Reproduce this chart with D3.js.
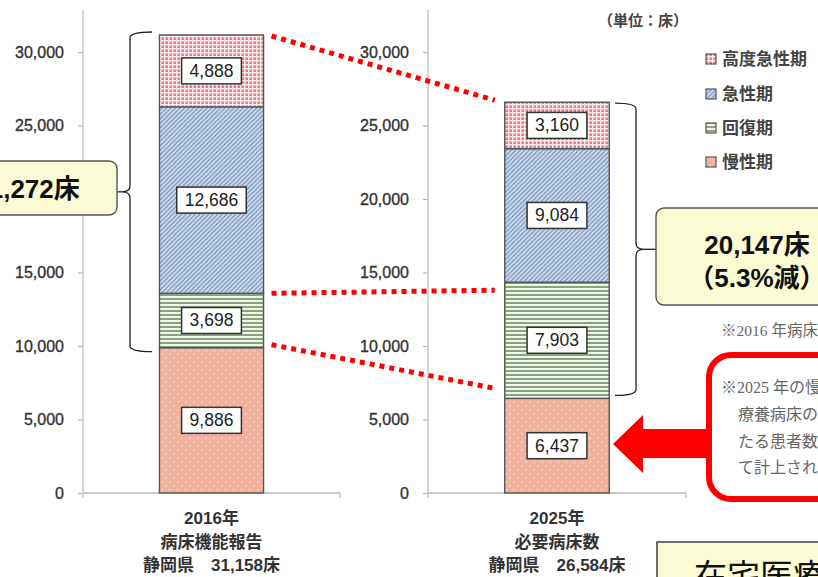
<!DOCTYPE html>
<html>
<head>
<meta charset="utf-8">
<script src="https://cdn.jsdelivr.net/npm/d3@7"></script>
<style>
  body { margin: 0; background: #fff; }
  svg { display: block; }
</style>
</head>
<body>
<svg id="chart" width="818" height="577"></svg>
<script>
// ---- data ----------------------------------------------------------
const categories = ["2016年", "2025年"];
const categoryLabels = [
  ["2016年", "病床機能報告", "静岡県　31,158床"],
  ["2025年", "必要病床数", "静岡県　26,584床"]
];
// stacking order, bottom to top
const functionsStack = ["慢性期", "回復期", "急性期", "高度急性期"];
const beds2016 = [9886, 3698, 12686, 4888];
const beds2025 = [6437, 7903, 9084, 3160];
const legendOrder = ["高度急性期", "急性期", "回復期", "慢性期"];
const yTicks = [0, 5000, 10000, 15000, 20000, 25000, 30000];
const totalOutsideChronic2016 = "21,272床";
const totalOutsideChronic2025 = ["20,147床", "（5.3%減）"];
const unitLabel = "（単位：床）";

// ---- setup ---------------------------------------------------------
const svg = d3.select("#chart");
const W = 818, H = 577;
const NUM_FONT = "'Liberation Sans', Arial, 'Noto Sans CJK JP', sans-serif";
const JP_FONT = "'Liberation Sans', 'Noto Sans CJK JP', sans-serif";
const SERIF_FONT = "'Liberation Serif', 'Noto Sans CJK JP', serif";

svg.append("rect").attr("width", W).attr("height", H).attr("fill", "#ffffff");

const defs = svg.append("defs");

// hatch / fill patterns for each bed function
function pat(id, w, h) {
  return defs.append("pattern").attr("id", id)
    .attr("patternUnits", "userSpaceOnUse").attr("width", w).attr("height", h);
}
// 高度急性期: red check
{
  const p = pat("p-high", 4, 4);
  p.append("rect").attr("width", 4).attr("height", 4).attr("fill", "#e57c88");
  p.append("rect").attr("width", 4).attr("height", 1.4).attr("fill", "#fcecee");
  p.append("rect").attr("width", 1.4).attr("height", 4).attr("fill", "#fcecee");
}
// 急性期: blue diagonal hatch
{
  const p = pat("p-acute", 4.5, 4.5);
  p.append("rect").attr("width", 4.5).attr("height", 4.5).attr("fill", "#cfdcee");
  p.append("path").attr("d", "M-1,1 L1,-1 M0,4.5 L4.5,0 M3.5,5.5 L5.5,3.5")
    .attr("stroke", "#7893bd").attr("stroke-width", 1.2);
}
// 回復期: green horizontal lines
{
  const p = pat("p-recov", 4, 4);
  p.append("rect").attr("width", 4).attr("height", 4).attr("fill", "#f1f5ec");
  p.append("rect").attr("y", 2.2).attr("width", 4).attr("height", 1.6).attr("fill", "#6f9162");
}
// 慢性期: salmon with light dots
{
  const p = pat("p-chron", 8, 8);
  p.append("rect").attr("width", 8).attr("height", 8).attr("fill", "#f1b29d");
  p.append("circle").attr("cx", 2).attr("cy", 2).attr("r", 0.8).attr("fill", "#fde8e0");
  p.append("circle").attr("cx", 6).attr("cy", 6).attr("r", 0.8).attr("fill", "#fde8e0");
}
const fillOf = {
  "高度急性期": "url(#p-high)",
  "急性期": "url(#p-acute)",
  "回復期": "url(#p-recov)",
  "慢性期": "url(#p-chron)"
};

// ---- scales --------------------------------------------------------
const y = d3.scaleLinear().domain([0, 30000]).range([493, 52]);

const rows = categories.map((c, i) => {
  const vals = i === 0 ? beds2016 : beds2025;
  const r = { category: c };
  functionsStack.forEach((f, j) => r[f] = vals[j]);
  return r;
});
const stacked = d3.stack().keys(functionsStack)(rows);

// each year sits in its own panel with its own value axis
const panels = [
  { axisX: 83, right: 340 },
  { axisX: 428, right: 686 }
];
const xScales = categories.map((c, i) =>
  d3.scaleBand().domain([c]).range([panels[i].axisX, panels[i].right]).padding(0.4235)
);

// left callout box geometry (covers part of the left value axis)
const leftBox = { x: -63, y: 161, w: 180, h: 54 };

// ---- axes ----------------------------------------------------------
panels.forEach((p, i) => {
  const g = svg.append("g").attr("transform", `translate(${p.axisX},0)`);
  g.call(d3.axisLeft(y).tickValues(yTicks).tickSize(5).tickPadding(14)
    .tickFormat(d3.format(",")));
  g.select(".domain").remove();
  g.selectAll(".tick line").attr("stroke", "#b5b5b5").attr("stroke-width", 1.2);
  g.selectAll(".tick text").attr("font-family", NUM_FONT).attr("font-size", 16)
    .attr("fill", "#333").attr("stroke", "#333").attr("stroke-width", 0.35);
  // ticks hidden behind the left callout box are not drawn
  if (i === 0) {
    g.selectAll(".tick")
      .filter(d => y(d) > leftBox.y && y(d) < leftBox.y + leftBox.h)
      .remove();
  }
  // vertical axis line
  svg.append("line").attr("x1", p.axisX).attr("x2", p.axisX)
    .attr("y1", 10).attr("y2", 498).attr("stroke", "#c4c4c4").attr("stroke-width", 1.4);
  // baseline
  svg.append("line").attr("x1", p.axisX).attr("x2", p.right)
    .attr("y1", y(0)).attr("y2", y(0)).attr("stroke", "#b8b8b8").attr("stroke-width", 1.4);
  svg.append("line").attr("x1", p.right).attr("x2", p.right)
    .attr("y1", y(0)).attr("y2", y(0) + 5).attr("stroke", "#b8b8b8").attr("stroke-width", 1.2);
});

// ---- bars ----------------------------------------------------------
const barG = svg.append("g");
stacked.forEach(layer => {
  layer.forEach((d, i) => {
    const xs = xScales[i];
    barG.append("rect")
      .attr("x", xs(d.data.category))
      .attr("width", xs.bandwidth())
      .attr("y", y(d[1]))
      .attr("height", y(d[0]) - y(d[1]))
      .attr("fill", fillOf[layer.key])
      .attr("stroke", "#555")
      .attr("stroke-width", 1.4);
  });
});

// value boxes
stacked.forEach(layer => {
  layer.forEach((d, i) => {
    const xs = xScales[i];
    const cx = xs(d.data.category) + xs.bandwidth() / 2;
    const cy = (y(d[0]) + y(d[1])) / 2;
    const g = barG.append("g");
    const t = g.append("text")
      .attr("x", cx).attr("y", cy + 6)
      .attr("text-anchor", "middle")
      .attr("font-family", NUM_FONT).attr("font-size", 17.5).attr("fill", "#222")
      .text(d3.format(",")(d[1] - d[0]));
    const tw = t.node().getComputedTextLength();
    g.insert("rect", "text")
      .attr("x", cx - tw / 2 - 8).attr("y", cy - 13)
      .attr("width", tw + 16).attr("height", 26)
      .attr("fill", "#fff").attr("stroke", "#333").attr("stroke-width", 1.5);
  });
});

// category labels under each bar
categoryLabels.forEach((lines, i) => {
  const xs = xScales[i];
  const cx = xs(categories[i]) + xs.bandwidth() / 2;
  lines.forEach((s, k) => {
    svg.append("text").attr("x", cx).attr("y", 524 + k * 23.5)
      .attr("text-anchor", "middle")
      .attr("font-family", JP_FONT).attr("font-weight", "bold")
      .attr("font-size", 17).attr("fill", "#333").text(s);
  });
});

// ---- red dotted connectors between bars ----------------------------
const top2016 = d3.sum(beds2016), top2025 = d3.sum(beds2025);
const connectors = [
  [top2016, top2025, 1, -2],
  [beds2016[0] + beds2016[1], beds2025[0] + beds2025[1], 0, 8],
  [beds2016[0], beds2025[0], -3, -10]
];
const x0r = xScales[0](categories[0]) + xScales[0].bandwidth();
const x1l = xScales[1](categories[1]);
connectors.forEach(([a, b, da, db]) => {
  svg.append("line")
    .attr("x1", x0r + 8).attr("y1", y(a) + da)
    .attr("x2", x1l - 10).attr("y2", y(b) + db)
    .attr("stroke", "#ff0000").attr("stroke-width", 5)
    .attr("stroke-dasharray", "5,5");
});

// ---- braces --------------------------------------------------------
function brace(x, yTop, yBot, dir, hook) {
  // dir = -1 cusp points left, +1 cusp points right
  const ym = (yTop + yBot) / 2;
  const hx = x - dir * hook;
  return `M${hx},${yTop} Q${x},${yTop} ${x},${yTop + 6} L${x},${ym - 6} Q${x},${ym} ${x + dir * 8},${ym}`
    + ` Q${x},${ym} ${x},${ym + 6} L${x},${yBot - 6} Q${x},${yBot} ${hx},${yBot}`;
}
const b1Top = y(top2016) - 3, b1Bot = y(beds2016[0]) + 4;
svg.append("path").attr("d", brace(130, b1Top, b1Bot, -1, 22))
  .attr("fill", "none").attr("stroke", "#222").attr("stroke-width", 1.3);
svg.append("line").attr("x1", 117).attr("x2", 122)
  .attr("y1", (b1Top + b1Bot) / 2).attr("y2", (b1Top + b1Bot) / 2)
  .attr("stroke", "#222").attr("stroke-width", 1.3);

const b2Top = y(top2025) + 1, b2Bot = y(beds2025[0]) - 3;
svg.append("path").attr("d", brace(636, b2Top, b2Bot, 1, 21))
  .attr("fill", "none").attr("stroke", "#222").attr("stroke-width", 1.3);
svg.append("line").attr("x1", 644).attr("x2", 656)
  .attr("y1", (b2Top + b2Bot) / 2).attr("y2", (b2Top + b2Bot) / 2)
  .attr("stroke", "#222").attr("stroke-width", 1.3);

// ---- callout boxes -------------------------------------------------
const calloutFill = "#fbfbd3";
svg.append("rect").attr("x", leftBox.x).attr("y", leftBox.y)
  .attr("width", leftBox.w).attr("height", leftBox.h)
  .attr("rx", 8).attr("fill", calloutFill).attr("stroke", "#555").attr("stroke-width", 1.4);
svg.append("text").attr("x", 27).attr("y", 198).attr("text-anchor", "middle")
  .attr("font-family", JP_FONT).attr("font-weight", "bold").attr("font-size", 26)
  .attr("fill", "#111").text(totalOutsideChronic2016);

svg.append("rect").attr("x", 656).attr("y", 208).attr("width", 204).attr("height", 97)
  .attr("rx", 8).attr("fill", calloutFill).attr("stroke", "#555").attr("stroke-width", 1.4);
totalOutsideChronic2025.forEach((s, k) => {
  svg.append("text").attr("x", 757).attr("y", 254 + k * 33).attr("text-anchor", "middle")
    .attr("font-family", JP_FONT).attr("font-weight", "bold").attr("font-size", 26)
    .attr("fill", "#111").text(s);
});

// ---- unit + legend -------------------------------------------------
svg.append("text").attr("x", 598).attr("y", 26)
  .attr("font-family", JP_FONT).attr("font-weight", "bold").attr("font-size", 15)
  .attr("fill", "#444").text(unitLabel);

const legendY = [59, 94, 128, 162];
legendOrder.forEach((k, i) => {
  svg.append("rect").attr("x", 706).attr("y", legendY[i] - 5).attr("width", 10).attr("height", 10)
    .attr("fill", fillOf[k]).attr("stroke", "#555").attr("stroke-width", 1.2);
  svg.append("text").attr("x", 722).attr("y", legendY[i] + 6)
    .attr("font-family", JP_FONT).attr("font-weight", "bold").attr("font-size", 17)
    .attr("fill", "#444").text(k);
});

// ---- notes ---------------------------------------------------------
svg.append("text").attr("x", 721).attr("y", 336)
  .attr("font-family", SERIF_FONT).attr("font-size", 15.5).attr("fill", "#666")
  .text("※2016 年病床機能報告の数値は、稼働病床数");

// red framed note with arrow toward the 2025 chronic bar
svg.append("rect").attr("x", 709).attr("y", 355).attr("width", 160).attr("height", 144)
  .attr("rx", 22).attr("fill", "#fff").attr("stroke", "#ff0000").attr("stroke-width", 6);
svg.append("path")
  .attr("d", "M613,444 L643,415 L643,429 L712,429 L712,458 L643,458 L643,473 Z")
  .attr("fill", "#ff0000");
const noteLines = [
  [721, 393, "※2025 年の慢性期の必要病床数は、"],
  [738, 420, "療養病床の入院患者数のうち、医療区分"],
  [738, 447, "たる患者数等を在宅医療等で対応する"],
  [738, 473, "て計上されている。"]
];
noteLines.forEach(([x, yy, s]) => {
  svg.append("text").attr("x", x).attr("y", yy)
    .attr("font-family", SERIF_FONT).attr("font-size", 16).attr("fill", "#666").text(s);
});

// home-care box at the bottom right
svg.append("rect").attr("x", 657).attr("y", 542).attr("width", 200).attr("height", 60)
  .attr("fill", calloutFill).attr("stroke", "#333").attr("stroke-width", 1.4);
svg.append("text").attr("x", 694).attr("y", 588)
  .attr("font-family", "'Noto Sans CJK JP', sans-serif").attr("font-size", 33)
  .attr("fill", "#111").text("在宅医療等");
</script>
</body>
</html>
